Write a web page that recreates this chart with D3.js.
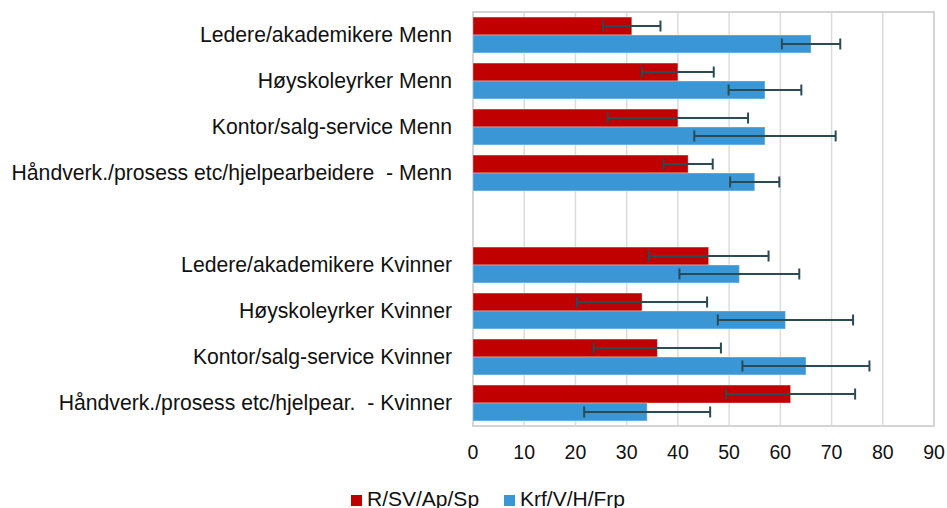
<!DOCTYPE html>
<html>
<head>
<meta charset="utf-8">
<script src="https://cdn.jsdelivr.net/npm/d3@7"></script>
<style>
	body { margin: 0; background: #fff; }
	svg { display: block; font-family: "Liberation Sans", Arial, sans-serif; }
</style>
</head>
<body>
<svg id="chart" width="947" height="508"></svg>
<script>
// categories, top to bottom ("" is the blank gap between the two groups)
const categories = [
	"Ledere/akademikere Menn",
	"Høyskoleyrker Menn",
	"Kontor/salg-service Menn",
	"Håndverk./prosess etc/hjelpearbeidere  - Menn",
	"",
	"Ledere/akademikere Kvinner",
	"Høyskoleyrker Kvinner",
	"Kontor/salg-service Kvinner",
	"Håndverk./prosess etc/hjelpear.  - Kvinner"
];
const seriesNames = ["R/SV/Ap/Sp", "Krf/V/H/Frp"];
const seriesColors = ["#c00000", "#3a96d4"];

const redValues = [31, 40, 40, 42, null, 46, 33, 36, 62];
const redErrors = [5.6, 7, 13.7, 4.8, null, 11.7, 12.7, 12.4, 12.6];
const blueValues = [66, 57, 57, 55, null, 52, 61, 65, 34];
const blueErrors = [5.7, 7.1, 13.8, 4.8, null, 11.7, 13.2, 12.4, 12.3];

const xTicks = [0, 10, 20, 30, 40, 50, 60, 70, 80, 90];

const svg = d3.select("#chart");
const plot = { left: 473, right: 934, top: 12, bottom: 426 };

const x = d3.scaleLinear().domain([0, 90]).range([plot.left, plot.right]);
const y = d3.scaleBand()
	.domain(d3.range(categories.length))
	.range([plot.top, plot.bottom])
	.paddingInner(0.22)
	.paddingOuter(0.11);
const ySeries = d3.scaleBand().domain([0, 1]).range([0, y.bandwidth()]);

// grid
svg.append("g")
	.selectAll("line")
	.data(xTicks.slice(1, -1)).enter()
	.append("line")
	.attr("x1", d => x(d)).attr("x2", d => x(d))
	.attr("y1", plot.top).attr("y2", plot.bottom)
	.attr("stroke", "#dcdcdc")
	.attr("stroke-width", 1.5);

svg.append("rect")
	.attr("x", plot.left).attr("y", plot.top)
	.attr("width", plot.right - plot.left).attr("height", plot.bottom - plot.top)
	.attr("fill", "none")
	.attr("stroke", "#d4d4d4")
	.attr("stroke-width", 2);

// bars + error bars
const series = [
	{ values: redValues, errors: redErrors },
	{ values: blueValues, errors: blueErrors }
];

const rows = [];
series.forEach((s, si) => {
	s.values.forEach((v, i) => {
		if (v != null) rows.push({ i, si, v, e: s.errors[i] });
	});
});

svg.append("g")
	.selectAll("rect")
	.data(rows).enter()
	.append("rect")
	.attr("x", x(0))
	.attr("y", d => y(d.i) + ySeries(d.si))
	.attr("width", d => x(d.v) - x(0))
	.attr("height", ySeries.bandwidth())
	.attr("fill", d => seriesColors[d.si])
	.attr("stroke", "rgba(255,255,255,0.35)")
	.attr("stroke-width", 1);

const errG = svg.append("g")
	.attr("stroke", "#2b4a52")
	.attr("stroke-width", 2);

const cy = d => y(d.i) + ySeries(d.si) + ySeries.bandwidth() / 2;

errG.selectAll("line.bar")
	.data(rows).enter()
	.append("line")
	.attr("x1", d => x(d.v - d.e))
	.attr("x2", d => x(d.v + d.e))
	.attr("y1", cy).attr("y2", cy);

errG.selectAll("line.capl")
	.data(rows).enter()
	.append("line")
	.attr("x1", d => x(d.v - d.e)).attr("x2", d => x(d.v - d.e))
	.attr("y1", d => cy(d) - 5.5).attr("y2", d => cy(d) + 5.5);

errG.selectAll("line.capr")
	.data(rows).enter()
	.append("line")
	.attr("x1", d => x(d.v + d.e)).attr("x2", d => x(d.v + d.e))
	.attr("y1", d => cy(d) - 5.5).attr("y2", d => cy(d) + 5.5);

// category labels
svg.append("g")
	.selectAll("text")
	.data(categories).enter()
	.append("text")
	.attr("x", 452)
	.attr("y", (d, i) => y(i) + y.bandwidth() / 2)
	.attr("dy", "0.35em")
	.attr("text-anchor", "end")
	.style("white-space", "pre")
	.attr("font-size", 21.2)
	.attr("fill", "#111")
	.text(d => d);

// x tick labels
svg.append("g")
	.selectAll("text")
	.data(xTicks).enter()
	.append("text")
	.attr("x", d => x(d))
	.attr("y", 459)
	.attr("text-anchor", "middle")
	.attr("font-size", 19.5)
	.attr("fill", "#111")
	.text(d => d);

// legend
const legendX = [351, 504];
const legend = svg.append("g")
	.selectAll("g")
	.data(seriesNames).enter()
	.append("g")
	.attr("transform", (d, i) => `translate(${legendX[i]},0)`);

legend.append("rect")
	.attr("x", 0).attr("y", 495)
	.attr("width", 11).attr("height", 11)
	.attr("fill", (d, i) => seriesColors[i]);

legend.append("text")
	.attr("x", 16).attr("y", 506)
	.attr("font-size", 21)
	.attr("fill", "#111")
	.text(d => d);
</script>
</body>
</html>
